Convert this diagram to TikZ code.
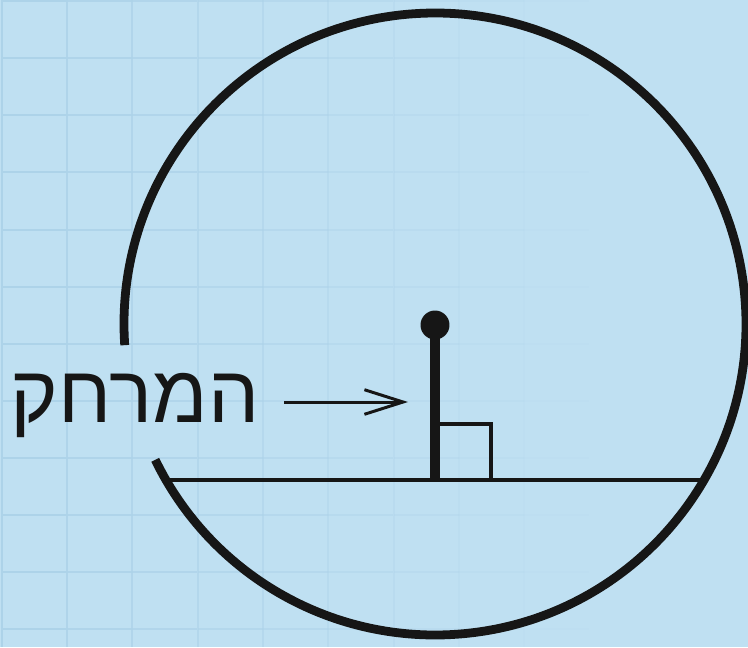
\documentclass[tikz,border=0pt]{standalone}
\usepackage{fontspec}
\newfontfamily\hebfont[Script=Hebrew]{Liberation Sans}
\TeXXeTstate=1
\usepackage{xcolor}
\usetikzlibrary{arrows.meta}
\definecolor{sky}{RGB}{191,224,242}
\definecolor{gridln}{RGB}{173,211,233}
\definecolor{ink}{RGB}{22,22,22}
\tikzset{
  rim/.style={draw=ink, line width=5pt},
  chd/.style={draw=ink, line width=2.6pt},
  perp/.style={draw=ink, line width=5.2pt},
  rbox/.style={draw=ink, line width=2pt},
  dot/.style={circle, fill=ink, inner sep=0pt, minimum size=16.5pt},
  lbl/.style={font=\hebfont\fontsize{46}{50}\selectfont, text=ink, inner sep=0pt},
  ptr/.style={draw=ink, line width=1.7pt, -{Straight Barb[length=22pt,width=14pt]}},
  gl/.style={draw=gridln, line width=1pt},
}

\begin{document}
\begin{tikzpicture}[x=0.02cm,y=-0.02cm]
\fill[sky] (0,0) rectangle (748,647);
\useasboundingbox (0,0) rectangle (748,647);
% grid, fading out to the right
\foreach \gx in {2,67,132,198,263,328,394,459,524}{
  \pgfmathsetmacro\op{max(0,1-\gx/580)}
  \draw[gl, opacity=\op] (\gx,0) -- (\gx,647);
  \foreach \gy in {1,58,115,172,230,287,344,401,458,515,572,629}
    \draw[gl, opacity=\op] (\gx,\gy) -- ++(65.3,0);
}
\node[dot] (ctr) at (435,325) {};
\coordinate (ft) at (435,480);
\coordinate (chL) at (166,480);
\coordinate (chR) at (704,480);
\coordinate (tip) at (408,402);
\node[lbl, anchor=base] (lbl) at (135,422) {\beginR המרחק\endR};
\draw[rim] (435,324) ++(176.1:311) arc[start angle=176.1, end angle=514.1, radius=311];
\draw[chd] (chL) -- (chR);
\draw[perp] (ctr.center) -- (ft);
\draw[rbox] (ft) ++(0,-56) -| ++(56,56);
\draw[ptr, shorten <=14pt] (lbl.east |- tip) -- (tip);
\end{tikzpicture}
\end{document}
